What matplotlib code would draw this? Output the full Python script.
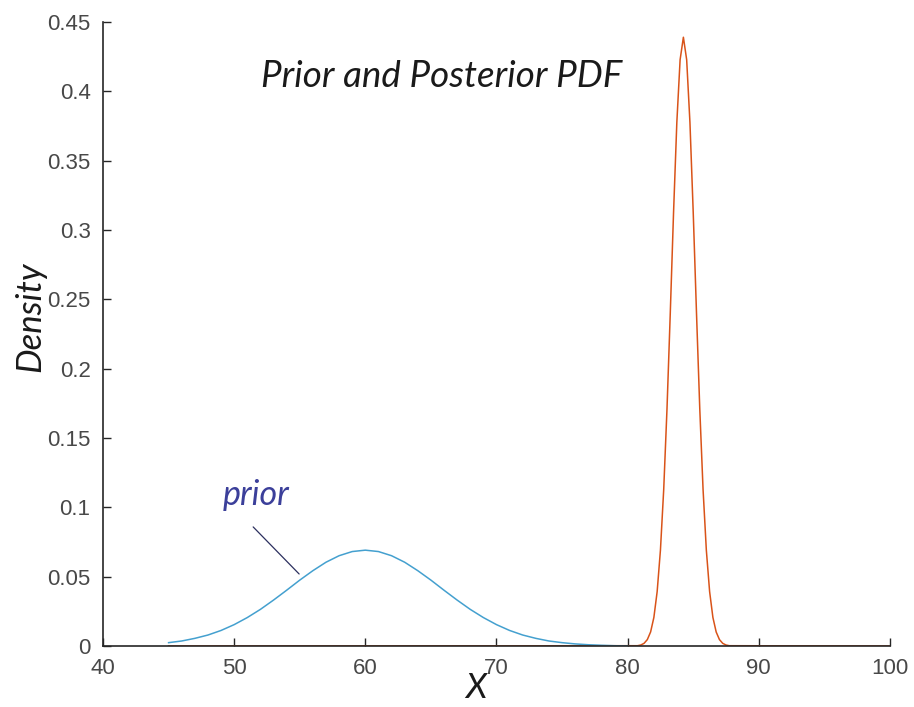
"""Prior and posterior densities of X."""
import matplotlib
matplotlib.use("Agg")
import matplotlib.pyplot as plt

# prior density, read at unit steps
prior_x = [45, 46, 47, 48, 49, 50, 51, 52, 53, 54, 55, 56, 57, 58, 59, 60,
           61, 62, 63, 64, 65, 66, 67, 68, 69, 70, 71, 72, 73, 74, 75, 76,
           77, 78, 79, 80]
prior_y = [0.0024, 0.0036, 0.0055, 0.0079, 0.0112, 0.0154, 0.0205, 0.0264,
           0.0331, 0.0402, 0.0475, 0.0543, 0.0604, 0.0651, 0.0681, 0.0691,
           0.0681, 0.0651, 0.0604, 0.0543, 0.0475, 0.0402, 0.0331, 0.0264,
           0.0205, 0.0154, 0.0112, 0.0079, 0.0055, 0.0036, 0.0024, 0.0015,
           0.0009, 0.0005, 0.0002, 0.0]

# posterior density, read at quarter steps around the peak
post_x = [45, 80.75, 81.0, 81.25, 81.5, 81.75, 82.0, 82.25, 82.5, 82.75,
          83.0, 83.25, 83.5, 83.75, 84.0, 84.25, 84.5, 84.75, 85.0, 85.25,
          85.5, 85.75, 86.0, 86.25, 86.5, 86.75, 87.0, 87.25, 87.5, 87.75,
          100]
post_y = [0.0, 0.0002, 0.0007, 0.0019, 0.0046, 0.0101, 0.0206, 0.0392,
          0.0691, 0.1129, 0.1709, 0.2400, 0.3126, 0.3775, 0.4228, 0.4390,
          0.4228, 0.3775, 0.3126, 0.2400, 0.1709, 0.1129, 0.0691, 0.0392,
          0.0206, 0.0101, 0.0046, 0.0019, 0.0007, 0.0002, 0.0]

x_ticks = [40, 50, 60, 70, 80, 90, 100]
y_ticks = [0, 0.05, 0.1, 0.15, 0.2, 0.25, 0.3, 0.35, 0.4, 0.45]
y_labels = ["0", "0.05", "0.1", "0.15", "0.2", "0.25", "0.3", "0.35", "0.4", "0.45"]

fig = plt.figure(figsize=(9.14, 7.07), dpi=100)
ax = fig.add_axes([0.1127, 0.0863, 0.861, 0.8826])

ax.plot(post_x, post_y, color="#D95319", lw=1.1)
ax.plot(prior_x, prior_y, color="#44A0CF", lw=1.1)

ax.set_xlim(40, 100)
ax.set_ylim(0, 0.45)
ax.set_xticks(x_ticks)
ax.set_yticks(y_ticks)
ax.set_yticklabels(y_labels)

for side in ["top", "right"]:
    ax.spines[side].set_visible(False)
for side in ["left", "bottom"]:
    ax.spines[side].set_color("#262626")
    ax.spines[side].set_linewidth(1.2)
ax.tick_params(direction="in", length=6, width=1.0, color="#262626",
               labelcolor="#484848", labelsize=16)
ax.tick_params(axis="y", pad=9)
ax.tick_params(axis="x", pad=9)
for lab in ax.get_xticklabels() + ax.get_yticklabels():
    lab.set_family("Liberation Sans")

ax.text(0.43, 0.912, "Prior and Posterior PDF", transform=ax.transAxes,
        ha="center", va="center", fontsize=26.5, style="italic",
        family="Lato", color="#1a1a1a")
fig.text(30 / 914, 1 - 317 / 707, "Density", rotation=90, ha="center",
         va="center", fontsize=25, style="italic", family="Lato",
         color="#1a1a1a")
fig.text(476 / 914, 1 - 688 / 707, "X", ha="center", va="center",
         fontsize=25, style="italic", family="Lato", color="#1a1a1a")

# callout for the prior curve
ax.annotate("", xy=(55.1, 0.0505), xytext=(51.3, 0.0873),
            arrowprops=dict(arrowstyle="-", color="#2b2f5e", lw=0.9))
ax.text(51.7, 0.109, "prior", ha="center", va="center", fontsize=24.5,
        style="italic", family="Lato", color="#3b3f9a")

fig.savefig("out.png", dpi=100)
